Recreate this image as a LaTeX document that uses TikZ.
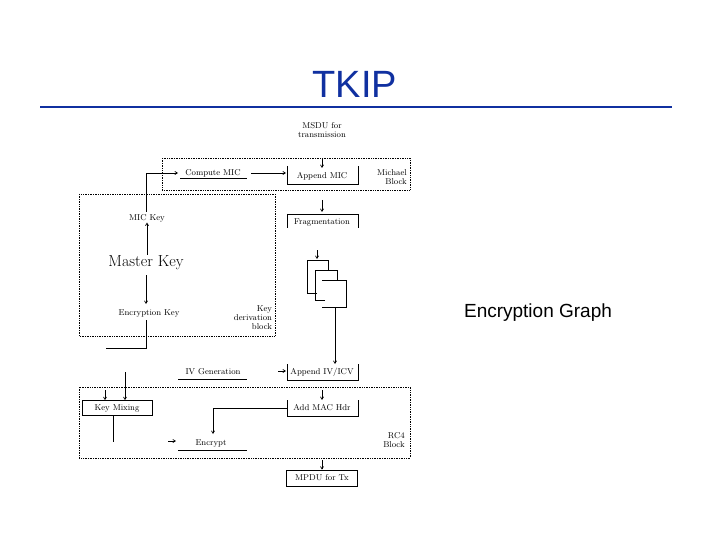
\documentclass[tikz,border=0pt]{standalone}
\usepackage{fontspec}
\usetikzlibrary{arrows.meta}
\newfontfamily\arialf{Liberation Sans}
\definecolor{tblue}{RGB}{16,48,160}
\begin{document}
\begin{tikzpicture}[x=1pt,y=-1pt,
  lbl/.style={font=\fontsize{8.5}{9}\selectfont,inner sep=0.5pt},
  dots/.style={densely dotted,line width=0.7pt},
  ln/.style={line width=0.7pt},
  arr/.style={ln,-{Straight Barb[length=2.5pt,width=3pt]}}]
\useasboundingbox (0,0) rectangle (720,540);
\node[font=\arialf\fontsize{38}{42}\selectfont,text=tblue] (title) at (355,84) {TKIP};
\draw[tblue,line width=2.5pt] (40,107) -- (672,107);
\node[font=\arialf\fontsize{19}{22}\selectfont] (eg) at (538,313) {Encryption Graph};
% dotted blocks
\draw[dots] (162,158) -- (410,158) -- (410,190) -- (162,190) -- cycle;
\draw[dots] (79,194) rectangle (275,336);
\draw[dots] (79,387) rectangle (410,458);
% top
\node[lbl,align=center] (msdu) at (322,130) {MSDU for\\transmission};
\coordinate (am) at (322,168);
\draw[ln] (287,166) -- (287,184) -- (358,184) -- (358,166);
\node[lbl] (append) at (322,176) {Append MIC};
\draw[arr] (322,158) -- (am);
\node[lbl,align=right] (mb) at (392,177) {Michael\\Block};
\node[lbl] (cmic) at (213,173) {Compute MIC};
\draw[ln] (180,178) -- (247,178);
\draw[arr] (251,173) -- (286,173);
% key derivation
\node[lbl] (mickey) at (147,218) {MIC Key};
\node[font=\fontsize{16}{18}\selectfont,inner sep=1pt] (master) at (146,263) {Master Key};
\node[lbl] (enckey) at (149,313) {Encryption Key};
\node[lbl,align=right] (kdb) at (253,318) {Key\\derivation\\block};
\draw[arr] (master.north -| mickey) -- (mickey.south);
\draw[arr] (146,275) -- (146,304);
\draw[ln] (146,212) -- (146,173);
\draw[arr] (146,173) -- (178,173);
\draw[ln] (146,320) -- (146,348) -- (106,348);
% fragmentation
\node[lbl] (frag) at (322,222) {Fragmentation};
\draw[ln] (287,214) -- (287,228);
\draw[ln] (287,214) -- (358,214) -- (358,228);
\draw[arr] (322,200) -- (322,212);
% stacked
\draw[ln] (317,293) -- (307,293) -- (307,260) -- (328,260) -- (328,270);
\draw[ln] (325,300) -- (315,300) -- (315,270) -- (337,270) -- (337,280);
\draw[ln] (322,280) -- (346,280) -- (346,307) -- (322,307);
\draw[arr] (317,250) -- (317,259);
% append IV
\draw[ln] (287,364) -- (287,380) -- (358,380) -- (358,364);
\node[lbl] (aiv) at (322,372) {Append IV/ICV};
\draw[arr] (335,307) -- (335,364);
\node[lbl] (ivg) at (213,372) {IV Generation};
\draw[ln] (178,379) -- (247,379);
\draw[arr] (278,371) -- (286,371);
% RC4
\node[lbl,draw,ln,minimum width=70pt,minimum height=15pt] (km) at (117,408) {Key Mixing};
\draw[arr] (125,372) -- (km.north -| 125,0);
\draw[arr] (105,390) -- (km.north -| 105,0);
\draw[ln] (113,415.5) -- (113,442);
\draw[ln] (287,400) -- (287,416) -- (358,416) -- (358,400);
\node[lbl] (mac) at (322,408) {Add MAC Hdr};
\draw[arr] (322,390) -- (322,400);
\draw[ln] (287,408) -- (213,408);
\draw[arr] (213,408) -- (213,434);
\node[lbl] (enc) at (211,443) {Encrypt};
\draw[ln] (178,450) -- (247,450);
\draw[arr] (168,441) -- (176,441);
\node[lbl,align=right] (rc4) at (394,440) {RC4\\Block};
% MPDU
\node[lbl,draw,ln,minimum width=71pt,minimum height=16pt] (mpdu) at (322,478) {MPDU for Tx};
\draw[arr] (322,460) -- (mpdu.north);
\end{tikzpicture}
\end{document}
